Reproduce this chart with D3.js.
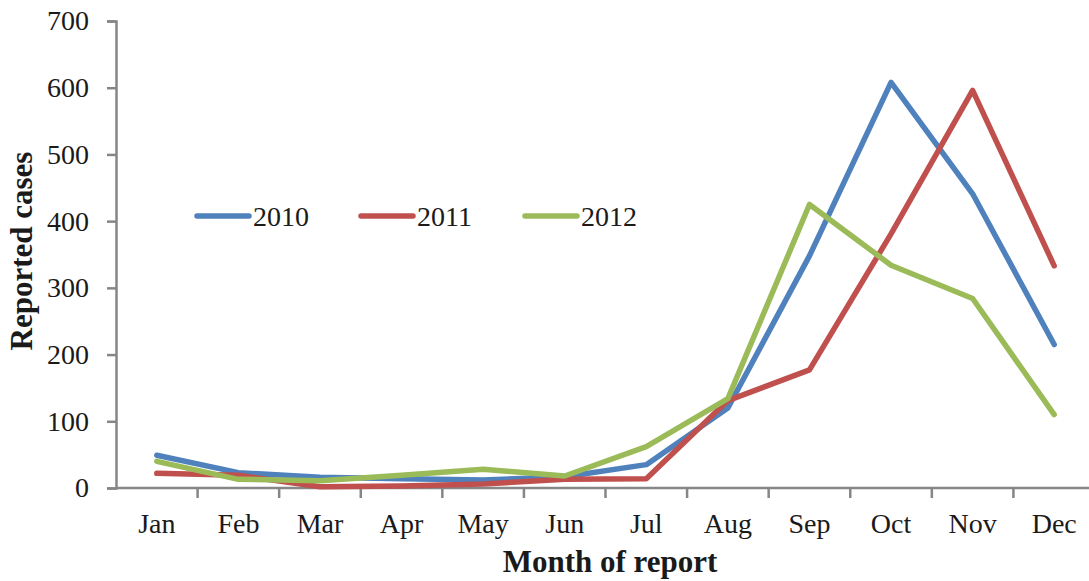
<!DOCTYPE html>
<html>
<head>
<meta charset="utf-8">
<script src="https://cdn.jsdelivr.net/npm/d3@7"></script>
<style>
  body { margin: 0; background: #fff; }
  text { font-family: "Liberation Serif", "Times New Roman", serif; fill: #1a1a1a; }
</style>
</head>
<body>
<script>
// Chart data
var months = ["Jan", "Feb", "Mar", "Apr", "May", "Jun", "Jul", "Aug", "Sep", "Oct", "Nov", "Dec"];
var years = ["2010", "2011", "2012"];
var cases2010 = [49, 23, 16, 14, 12, 17, 35, 120, 348, 608, 441, 215];
var cases2011 = [22, 19, 2, 3, 6, 13, 14, 131, 177, 381, 596, 333];
var cases2012 = [40, 13, 11, 19, 28, 18, 62, 134, 425, 334, 284, 110];
var yTicks = [0, 100, 200, 300, 400, 500, 600, 700];
var colors = ["#4F81BD", "#C0504D", "#9BBB59"];

var svgWidth = 1089;
var svgHeight = 581;

var margin = { top: 21, left: 116 };
var chartWidth = 979;
var chartHeight = 467;

var svg = d3.select("body")
  .append("svg")
  .attr("width", svgWidth)
  .attr("height", svgHeight);

var chartGroup = svg.append("g")
  .attr("transform", `translate(${margin.left}, ${margin.top})`);

var xScale = d3.scaleBand()
  .domain(months)
  .range([0, chartWidth]);

var yScale = d3.scaleLinear()
  .domain([0, 700])
  .range([chartHeight, 0]);

// Y axis
var leftAxis = d3.axisLeft(yScale).tickValues(yTicks).tickSize(9).tickPadding(18);
var yAxisG = chartGroup.append("g").call(leftAxis);
yAxisG.select(".domain").attr("stroke", "#868686").attr("stroke-width", 2.5);
yAxisG.selectAll(".tick line").attr("stroke", "#868686").attr("stroke-width", 2.5);
yAxisG.selectAll(".tick text")
  .attr("font-size", 28)
  .attr("font-family", "Liberation Serif, serif")
  .attr("fill", "#1a1a1a");

// X axis with ticks on category boundaries
var xAxisG = chartGroup.append("g")
  .attr("transform", `translate(0, ${chartHeight})`);
xAxisG.append("line")
  .attr("x1", 0).attr("x2", chartWidth)
  .attr("stroke", "#868686").attr("stroke-width", 2.5);
xAxisG.selectAll(".xtick")
  .data(months)
  .enter()
  .append("line")
  .attr("class", "xtick")
  .attr("x1", d => xScale(d) + xScale.bandwidth())
  .attr("x2", d => xScale(d) + xScale.bandwidth())
  .attr("y1", 0).attr("y2", 10)
  .attr("stroke", "#868686").attr("stroke-width", 2.5);
xAxisG.selectAll(".xlabel")
  .data(months)
  .enter()
  .append("text")
  .attr("class", "xlabel")
  .attr("x", d => xScale(d) + xScale.bandwidth() / 2)
  .attr("y", 45)
  .attr("text-anchor", "middle")
  .attr("font-size", 28)
  .text(d => d);

// Lines
var series = [cases2010, cases2011, cases2012];
var line = d3.line()
  .x((d, i) => xScale(months[i]) + xScale.bandwidth() / 2)
  .y(d => yScale(d));

chartGroup.selectAll(".series")
  .data(series)
  .enter()
  .append("path")
  .attr("class", "series")
  .attr("d", d => line(d))
  .attr("fill", "none")
  .attr("stroke", (d, i) => colors[i])
  .attr("stroke-width", 5.5)
  .attr("stroke-linejoin", "round")
  .attr("stroke-linecap", "round");

// Legend
var legendX = [197, 361, 525];
var legend = svg.selectAll(".legend")
  .data(years)
  .enter()
  .append("g")
  .attr("class", "legend")
  .attr("transform", (d, i) => `translate(${legendX[i]}, 216)`);
legend.append("line")
  .attr("x1", 0).attr("x2", 52)
  .attr("stroke", (d, i) => colors[i])
  .attr("stroke-width", 5.5)
  .attr("stroke-linecap", "round");
legend.append("text")
  .attr("x", 56)
  .attr("y", 10)
  .attr("font-size", 28)
  .text(d => d);

// Axis titles
svg.append("text")
  .attr("x", 610)
  .attr("y", 572)
  .attr("text-anchor", "middle")
  .attr("font-size", 31)
  .attr("font-weight", "bold")
  .text("Month of report");

svg.append("text")
  .attr("transform", "rotate(-90)")
  .attr("x", -251)
  .attr("y", 32)
  .attr("text-anchor", "middle")
  .attr("font-size", 31)
  .attr("font-weight", "bold")
  .text("Reported cases");
</script>
</body>
</html>
